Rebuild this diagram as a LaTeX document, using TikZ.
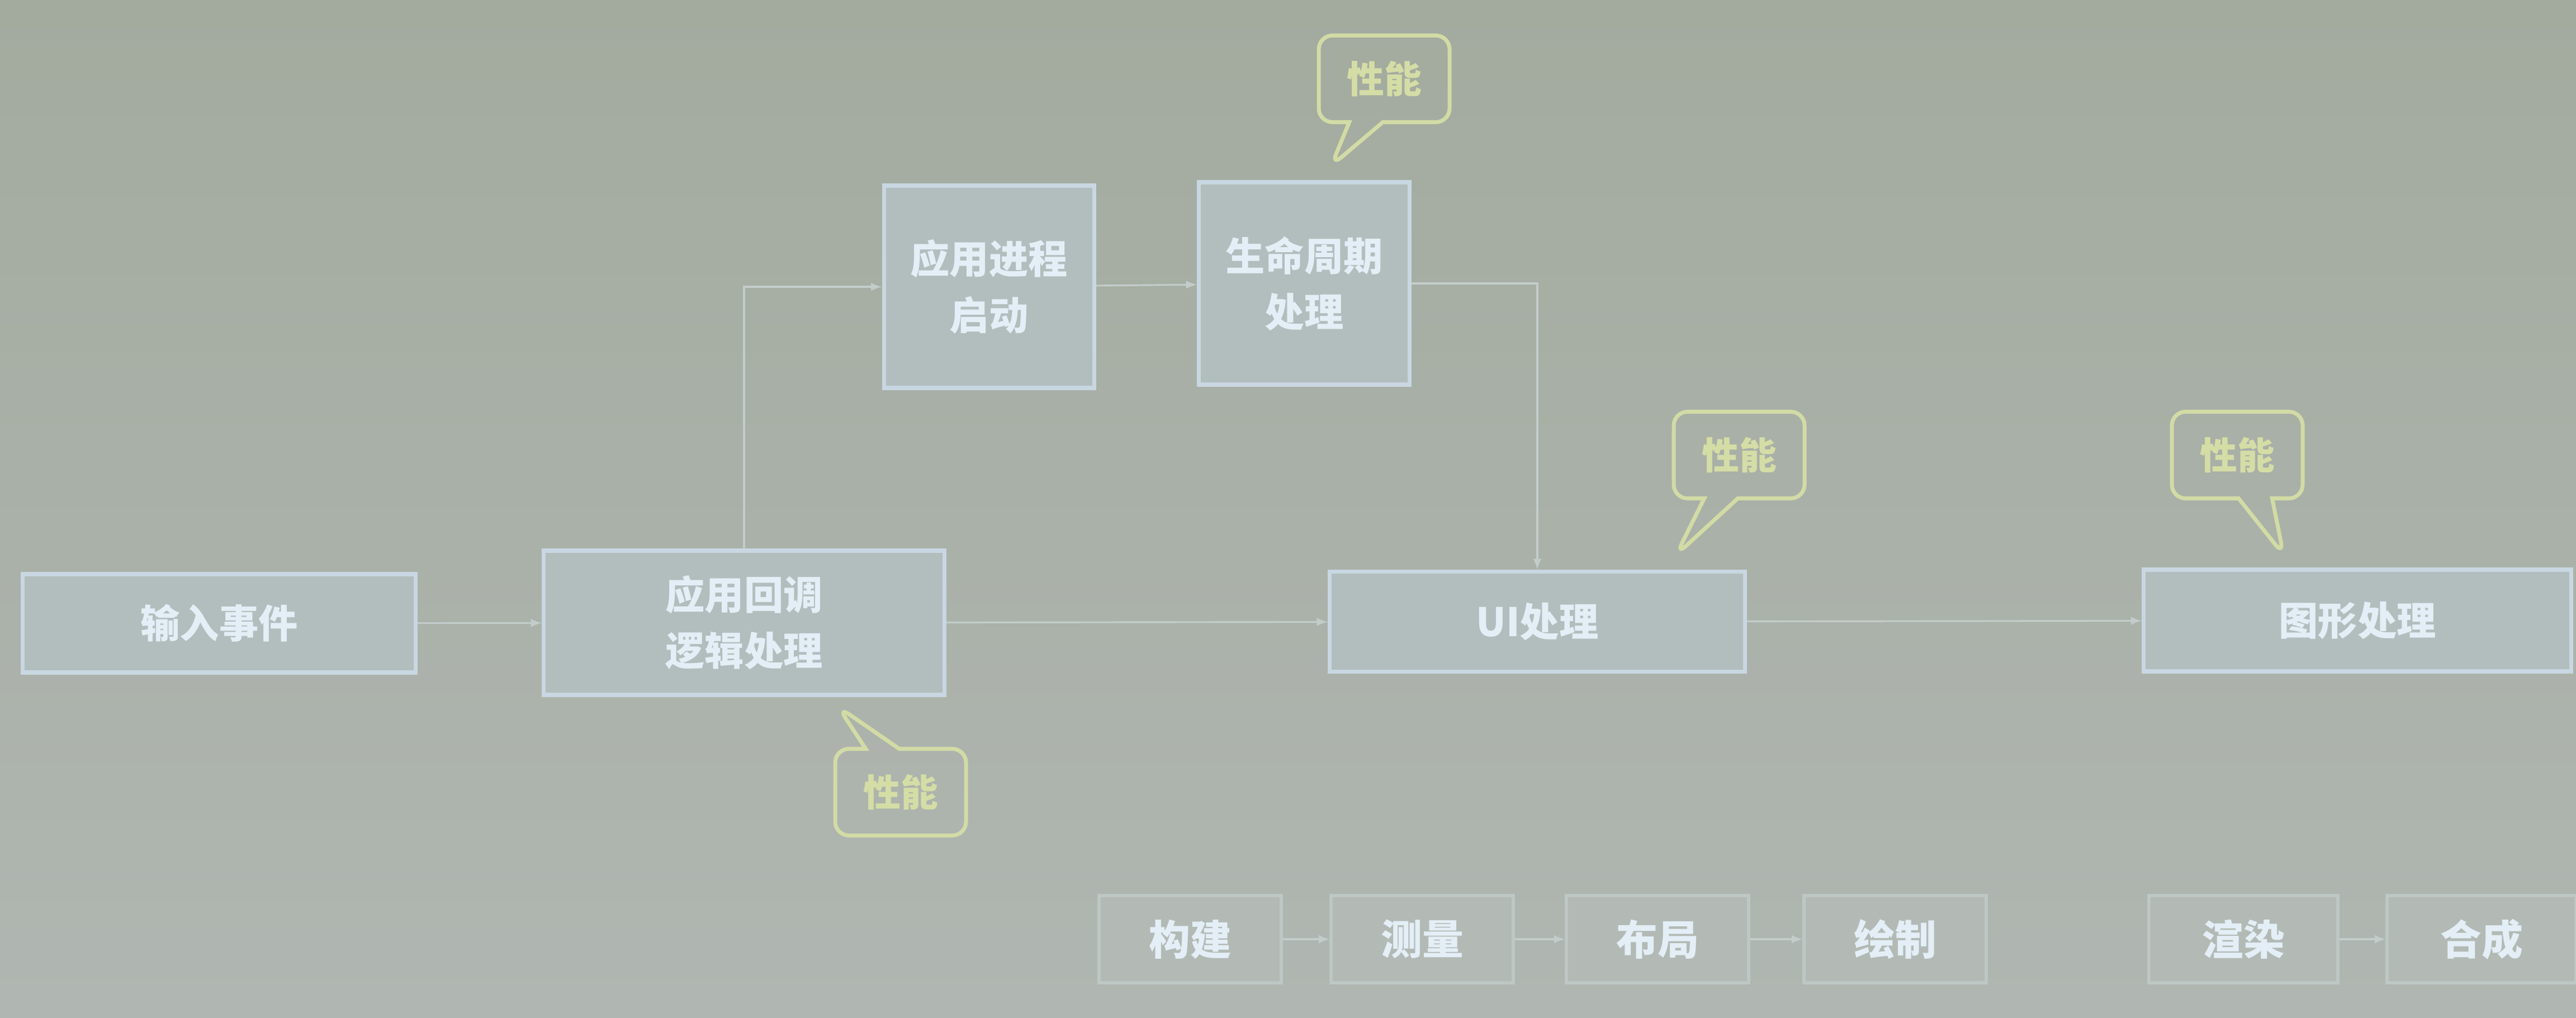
\documentclass[tikz,border=0pt]{standalone}
\usepackage{fontspec}
\newfontfamily\cjk{Noto Sans CJK SC}
\usepackage{xcolor}
\usepackage{tikz}
\usetikzlibrary{arrows,shapes,shapes.callouts}

\definecolor{bgtop}{HTML}{A3AB9F}
\definecolor{bgbot}{HTML}{B0B6B1}
\definecolor{boxfill}{HTML}{B2BDBD}
\definecolor{boxline}{HTML}{C8D7E1}
\definecolor{boxtext}{HTML}{E3EEF6}
\definecolor{subfill}{HTML}{B3BAB5}
\definecolor{subline}{HTML}{BDC7C4}
\definecolor{perfline}{HTML}{D2DBA5}
\definecolor{perftext}{HTML}{D5DDA6}
\definecolor{wire}{HTML}{C2CDCB}

\begin{document}
\begin{tikzpicture}[
	stage/.style={draw=boxline, line width=2pt, fill=boxfill, text=boxtext, inner sep=0pt, align=center,
		font=\cjk\bfseries\fontsize{20}{28.5}\selectfont},
	substage/.style={draw=subline, line width=1.5pt, fill=subfill, text=boxtext, inner sep=0pt,
		minimum width=3.26cm, minimum height=1.56cm, font=\cjk\bfseries\fontsize{21}{26}\selectfont},
	perf/.style={rectangle callout, draw=perfline, line width=2pt, rounded corners=7pt, text=perftext,
		minimum width=2.34cm, minimum height=1.55cm, callout pointer width=0.6cm,
		font=\cjk\bfseries\fontsize{19}{24}\selectfont},
	flow/.style={->, >=latex, color=wire, line width=0.9pt}]
		\useasboundingbox (0,0) rectangle (46.08,18.20);
		\clip (0,0) rectangle (46.08,18.20);
		\shade[top color=bgtop, bottom color=bgbot] (0,0) rectangle (46.08,18.20);
		%
		\node[stage, minimum width=7.03cm, minimum height=1.76cm] (input) at (3.92,7.05) {输入事件};
		\node[stage, minimum width=7.17cm, minimum height=2.58cm] (callback) at (13.31,7.06) {应用回调\\逻辑处理};
		\node[stage, minimum width=3.76cm, minimum height=3.62cm] (launch) at (17.69,13.07) {应用进程\\启动};
		\node[stage, minimum width=3.77cm, minimum height=3.62cm] (life) at (23.33,13.13) {生命周期\\处理};
		\node[stage, minimum width=7.43cm, minimum height=1.79cm] (ui) at (27.50,7.08) {UI处理};
		\node[stage, minimum width=7.65cm, minimum height=1.82cm] (gfx) at (42.17,7.10) {图形处理};
		%
		\node[substage] (build) at (21.29,1.40) {构建};
		\node[substage] (measure) at (25.44,1.40) {测量};
		\node[substage] (layout) at (29.65,1.40) {布局};
		\node[substage] (paint) at (33.90,1.40) {绘制};
		\node[substage, minimum width=3.38cm] (render) at (40.13,1.40) {渲染};
		\node[substage, minimum width=3.38cm] (compose) at (44.39,1.40) {合成};
		%
		\coordinate (tipLife) at (23.81,15.23);
		\coordinate (tipUI) at (29.98,8.27);
		\coordinate (tipGfx) at (40.85,8.27);
		\coordinate (tipCall) at (14.99,5.56);
		\node[perf, callout absolute pointer={(tipLife)}] (perfLife) at (24.76,16.79) {性能};
		\node[perf, callout absolute pointer={(tipUI)}] (perfUI) at (31.11,10.06) {性能};
		\node[perf, callout absolute pointer={(tipGfx)}] (perfGfx) at (40.02,10.06) {性能};
		\node[perf, callout absolute pointer={(tipCall)}] (perfCall) at (16.11,4.03) {性能};
		%
		\path[flow]
		(input) edge (callback)
		(callback) edge (ui)
		(ui) edge (gfx)
		(launch) edge (life)
		(build) edge (measure)
		(measure) edge (layout)
		(layout) edge (paint)
		(render) edge (compose);
		\draw[flow] (callback.north) |- (launch.west);
		\draw[flow] (life.east) -| (ui.north);
\end{tikzpicture}
\end{document}
